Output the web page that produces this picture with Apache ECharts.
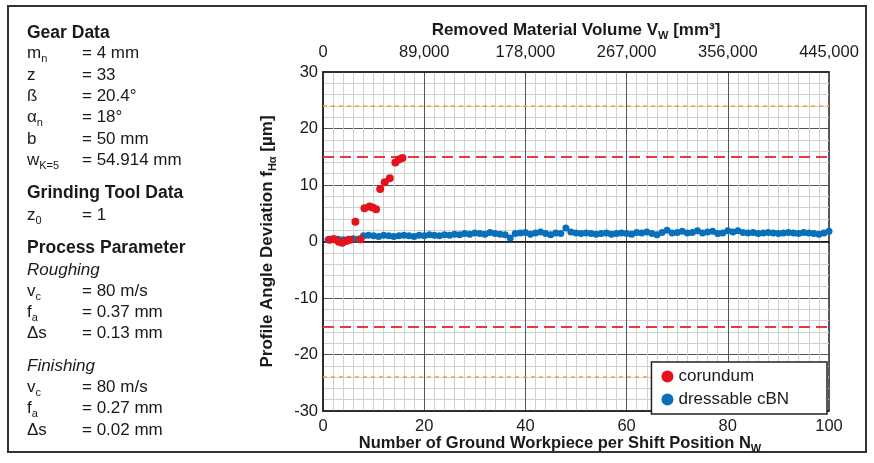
<!DOCTYPE html>
<html><head><meta charset="utf-8">
<script src="https://cdn.jsdelivr.net/npm/echarts@6/dist/echarts.min.js"></script>
<style>html,body{margin:0;padding:0;background:#fff}#c{width:874px;height:463px}</style>
</head><body><div id="c"></div>
<script>
// ---- data ----
const corundumN = [1.3, 2.2, 3.1, 3.8, 4.6, 5.4, 6.4, 7.4, 8.2, 9.2, 9.8, 10.5, 11.3, 12.2, 13.2, 14.3, 15.0, 15.7];
const corundumF = [0.3, 0.4, -0.05, -0.2, 0.1, 0.3, 3.5, 0.4, 5.9, 6.2, 6.0, 5.7, 9.3, 10.5, 11.2, 14.0, 14.5, 14.8];
const cbnN = [1,2,3,4,5,6,7,8,9,10,11,12,13,14,15,16,17,18,19,20,21,22,23,24,25,26,27,28,29,30,31,32,33,34,35,36,37,38,39,40,41,42,43,44,45,46,47,48,49,50,51,52,53,54,55,56,57,58,59,60,61,62,63,64,65,66,67,68,69,70,71,72,73,74,75,76,77,78,79,80,81,82,83,84,85,86,87,88,89,90,91,92,93,94,95,96,97,98,99,100];
const cbnF = [0.3,0.5,0.4,0.3,0.4,0.5,0.4,
  1.0,1.1,1.0,0.9,1.1,1.0,0.9,1.0,
  1.1,1.0,0.9,1.1,1.0,1.2,1.1,1.0,1.2,1.1,
  1.3,1.2,1.4,1.3,1.5,1.4,1.3,1.6,1.4,1.3,1.2,
  0.6,
  1.4,1.5,1.6,1.3,1.5,1.7,1.4,1.2,1.5,1.4,
  2.4,
  1.7,1.5,1.4,1.5,1.4,1.3,1.4,1.5,1.3,1.4,1.5,1.4,
  1.3,1.6,1.5,1.7,1.4,1.2,1.6,2.0,1.5,1.6,
  1.8,1.5,1.6,1.9,1.5,1.7,1.8,1.4,1.5,1.9,
  1.7,1.9,1.6,1.5,1.6,1.4,1.5,1.6,1.5,1.4,
  1.5,1.6,1.5,1.4,1.6,1.5,1.4,1.3,1.5,1.8];
const seriesNames = ['corundum', 'dressable cBN'];
const xRange = [0, 100];          // bottom axis (N_W)
const xStep = 20;
const volRange = [0, 445000];     // top axis (V_W)
const volStep = 89000;
const yRange = [-30, 30];
const yStep = 10;
const redLimits = [15, -15];
const orangeLimits = [24, -24];
const zeroLine = [0];

// left panel text
const panelLines = [
  {k:'head', a:'Gear Data'},
  {k:'row', a:'m', s:'n', v:'= 4 mm'},
  {k:'row', a:'z', v:'= 33'},
  {k:'row', a:'ß', v:'= 20.4°'},
  {k:'row', a:'α', s:'n', v:'= 18°'},
  {k:'row', a:'b', v:'= 50 mm'},
  {k:'row', a:'w', s:'K=5', v:'= 54.914 mm'},
  {k:'head', a:'Grinding Tool Data'},
  {k:'row', a:'z', s:'0', v:'= 1'},
  {k:'head', a:'Process Parameter'},
  {k:'ital', a:'Roughing'},
  {k:'row', a:'v', s:'c', v:'= 80 m/s'},
  {k:'row', a:'f', s:'a', v:'= 0.37 mm'},
  {k:'row', a:'Δs', v:'= 0.13 mm'},
  {k:'ital', a:'Finishing'},
  {k:'row', a:'v', s:'c', v:'= 80 m/s'},
  {k:'row', a:'f', s:'a', v:'= 0.27 mm'},
  {k:'row', a:'Δs', v:'= 0.02 mm'}
];
const panelY = [33,53,75,96,117,139,160,193,215,248,270,291,312,333,366,387,408,430];

// ---- chart ----
const FF = '"Liberation Sans", Arial, sans-serif';
const RED = '#e3131b', BLUE = '#0a6fba';
const INK = '#1a1a1a';

const graphic = [{
  type:'rect', shape:{x:8, y:6, width:858, height:446},
  style:{fill:'none', stroke:'#333', lineWidth:2}, silent:true
}];
panelLines.forEach((l, i) => {
  const y = panelY[i];
  if (l.k === 'head' || l.k === 'ital') {
    graphic.push({type:'text', x:27, y:y, style:{
      text:l.a, fill:INK, verticalAlign:'middle',
      font:(l.k==='head' ? 'bold 17.5px ' : 'italic 17px ') + FF}});
  } else {
    graphic.push({type:'text', x:27, y:y, style:{
      text: l.s ? '{m|' + l.a + '}{s|' + l.s + '}' : '{m|' + l.a + '}',
      verticalAlign:'middle', fill:INK,
      rich:{m:{fontSize:17, fontFamily:FF, lineHeight:22, fill:INK},
            s:{fontSize:11, fontFamily:FF, lineHeight:10, verticalAlign:'bottom', fill:INK}}}});
    graphic.push({type:'text', x:82, y:y, style:{
      text:l.v, fill:INK, verticalAlign:'middle', font:'17px ' + FF}});
  }
});

const nameRich = (fs) => ({
  m:{fontSize:fs, fontWeight:'bold', fontFamily:FF, color:INK, lineHeight:22},
  s:{fontSize:Math.round(fs*0.65), fontWeight:'bold', fontFamily:FF, color:INK, lineHeight:10, verticalAlign:'bottom'}
});

const chart = echarts.init(document.getElementById('c'), null, {renderer:'canvas'});
const refLine = (vals, color, width, dash) => vals.map(v => ({
  yAxis:v, lineStyle:{color:color, width:width, type:dash}}));

chart.setOption({
  animation:false,
  textStyle:{fontFamily:FF},
  graphic: graphic,
  grid:{left:323, right:45, top:72, bottom:52, show:true, borderColor:'#222', borderWidth:1.5,
        containLabel:false, outerBoundsMode:'none'},
  legend:{
    data:seriesNames, orient:'vertical', right:47, top:362, z:50, zlevel:1,
    backgroundColor:'#fff', borderColor:'#222', borderWidth:1.5, borderRadius:0,
    padding:[6, 38, 6, 10], itemGap:6, itemWidth:12, itemHeight:12,
    textStyle:{fontSize:17, color:INK, fontFamily:FF}
  },
  xAxis:[{
    type:'value', position:'bottom', min:xRange[0], max:xRange[1], interval:xStep,
    name:'{m|Number of Ground Workpiece per Shift Position N}{s|W}',
    nameLocation:'middle', nameGap:21, nameMoveOverlap:false,
    nameTextStyle:{padding:[0,32,0,0], rich:nameRich(16.5)},
    axisLine:{show:true, onZero:false, lineStyle:{color:'#222', width:1.5}},
    axisTick:{show:false},
    axisLabel:{fontSize:16.5, color:INK, margin:7},
    splitLine:{show:true, lineStyle:{color:'#555', width:1}},
    minorTick:{show:false, splitNumber:10},
    minorSplitLine:{show:true, lineStyle:{color:'#cfcfcf', width:1}}
  },{
    type:'value', position:'top', min:volRange[0], max:volRange[1], interval:volStep,
    name:'{m|Removed Material Volume V}{s|W}{m| [mm³]}',
    nameLocation:'middle', nameGap:31, nameMoveOverlap:false,
    nameTextStyle:{rich:nameRich(17)},
    axisLine:{show:true, onZero:false, lineStyle:{color:'#222', width:1.5}},
    axisTick:{show:false},
    axisLabel:{fontSize:16.5, color:INK, margin:11,
      formatter:v => v.toLocaleString('en-US')},
    splitLine:{show:false}
  }],
  yAxis:{
    type:'value', min:yRange[0], max:yRange[1], interval:yStep,
    name:'{m|Profile Angle Deviation f}{s|Hα}{m| [µm]}',
    nameLocation:'middle', nameGap:45, nameRotate:90, nameMoveOverlap:false,
    nameTextStyle:{rich:nameRich(17)},
    axisLine:{show:true, onZero:false, lineStyle:{color:'#222', width:1.5}},
    axisTick:{show:false},
    axisLabel:{fontSize:16.5, color:INK, margin:5},
    splitLine:{show:true, lineStyle:{color:'#555', width:1}},
    minorTick:{show:false, splitNumber:5},
    minorSplitLine:{show:true, lineStyle:{color:'#cfcfcf', width:1}}
  },
  series:[{
    name:'limits', type:'line', data:[], z:1, silent:true,
    markLine:{symbol:'none', silent:true, z:1, label:{show:false}, animation:false,
      data: refLine(zeroLine, '#000', 1.5, 'solid')
        .concat(refLine(redLimits, '#e8383c', 2, [11, 6]))
        .concat(refLine(orangeLimits, '#f2a33a', 1.5, [4, 4]))}
  },{
    name:seriesNames[1], type:'scatter', z:3, symbolSize:7,
    itemStyle:{color:BLUE, opacity:1},
    data: cbnN.map((n, i) => [n, cbnF[i]])
  },{
    name:seriesNames[0], type:'scatter', z:4, symbolSize:8,
    itemStyle:{color:RED, opacity:1},
    data: corundumN.map((n, i) => [n, corundumF[i]])
  }]
});
</script></body></html>
